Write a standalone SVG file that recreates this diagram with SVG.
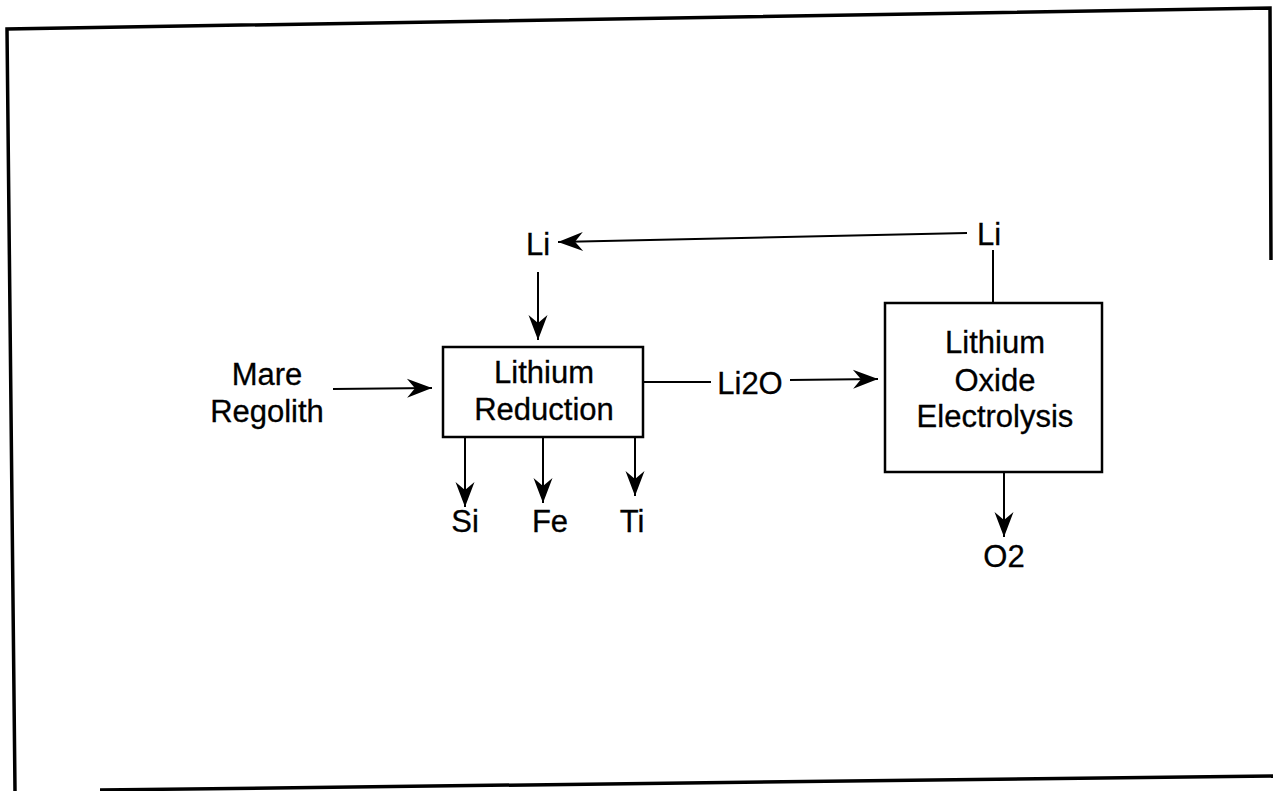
<svg xmlns="http://www.w3.org/2000/svg" width="1273" height="791" viewBox="0 0 1273 791">
<defs>
<style>
text{font-family:"Liberation Sans",Arial,sans-serif;font-size:31px;fill:#000;stroke:#000;stroke-width:0.3;text-anchor:middle}
.box{fill:#fff;stroke:#000;stroke-width:2.5}
.ln{fill:none;stroke:#000;stroke-width:2}
.fr{fill:none;stroke:#000;stroke-width:3.5}
</style>
<marker id="ah" markerUnits="userSpaceOnUse" markerWidth="28" markerHeight="22" viewBox="-26 -11 28 22" refX="0" refY="0" orient="auto">
<path d="M0,0 L-25,-9.5 L-17,0 L-25,9.5 Z" fill="#000"/>
</marker>
</defs>
<rect width="1273" height="791" fill="#fff"/>
<g id="frame">
<path class="fr" d="M15,791 L7,29 L1270,8 L1271,260"/>
<path class="fr" d="M100,790 L1273,776"/>
</g>
<g id="connectors">
<path class="ln" d="M967,233 L558,242" marker-end="url(#ah)"/>
<path class="ln" d="M993,250 L993,302"/>
<path class="ln" d="M538,272 L538,340" marker-end="url(#ah)"/>
<path class="ln" d="M333,389 L432,388" marker-end="url(#ah)"/>
<path class="ln" d="M643,382 L711,382"/>
<path class="ln" d="M790,380 L878,379" marker-end="url(#ah)"/>
<path class="ln" d="M465,437 L465,507" marker-end="url(#ah)"/>
<path class="ln" d="M543,437 L543,503" marker-end="url(#ah)"/>
<path class="ln" d="M635,437 L635,496" marker-end="url(#ah)"/>
<path class="ln" d="M1004,472 L1004,537" marker-end="url(#ah)"/>
</g>
<g id="mare-regolith">
<text x="267" y="385">Mare</text>
<text x="267" y="422">Regolith</text>
</g>
<g id="lithium-reduction">
<rect class="box" x="443" y="347" width="200" height="90"/>
<text x="544" y="383">Lithium</text>
<text x="544" y="420">Reduction</text>
</g>
<g id="lithium-oxide-electrolysis">
<rect class="box" x="885" y="303" width="217" height="169"/>
<text x="995" y="353">Lithium</text>
<text x="995" y="391">Oxide</text>
<text x="995" y="427">Electrolysis</text>
</g>
<g id="li-left"><text x="538" y="255">Li</text></g>
<g id="li-right"><text x="989" y="245">Li</text></g>
<g id="li2o"><text x="750" y="394">Li2O</text></g>
<g id="si"><text x="465" y="532">Si</text></g>
<g id="fe"><text x="550" y="532">Fe</text></g>
<g id="ti"><text x="632" y="532">Ti</text></g>
<g id="o2"><text x="1004" y="567">O2</text></g>
</svg>
